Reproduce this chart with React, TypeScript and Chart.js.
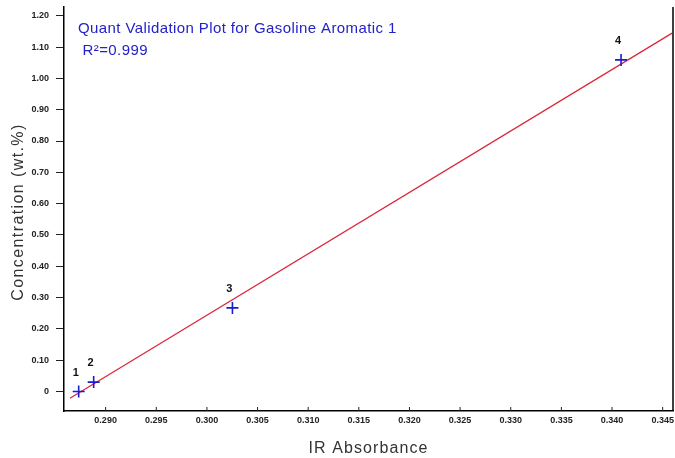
import React, { useEffect, useRef } from 'react';
import { Chart, registerables } from 'chart.js';
Chart.register(...registerables);

// ---- data ----
const sampleLabels = ['1', '2', '3', '4'];
const absorbance = [0.28734, 0.28882, 0.30252, 0.34089];
const concentration = [0.0, 0.03, 0.267, 1.059];
const fitX = [0.28648, 0.34593];
const fitY = [-0.0217, 1.1446];
const xTicks = [0.29, 0.295, 0.3, 0.305, 0.31, 0.315, 0.32, 0.325, 0.33, 0.335, 0.34, 0.345];
const yTicks = [0, 0.1, 0.2, 0.3, 0.4, 0.5, 0.6, 0.7, 0.8, 0.9, 1.0, 1.1, 1.2];
const xRange = [0.28589, 0.34602];
const yRange = [-0.0623, 1.228];
const titleLines = ['Quant Validation Plot for Gasoline Aromatic 1', ' R\u00B2=0.999'];
const xTitle = 'IR Absorbance';
const yTitle = 'Concentration (wt.%)';

const overlay = {
  id: 'overlay',
  afterDraw(chart: any) {
    const ctx = chart.ctx as CanvasRenderingContext2D;
    const area = chart.chartArea;
    const xs = chart.scales.x;
    const ys = chart.scales.y;
    ctx.save();
    // right border
    ctx.strokeStyle = '#000';
    ctx.lineWidth = 1.5;
    ctx.beginPath();
    ctx.moveTo(area.right, area.top);
    ctx.lineTo(area.right, area.bottom);
    ctx.stroke();
    // inside x tick marks
    ctx.lineWidth = 1;
    ctx.strokeStyle = '#222';
    xTicks.forEach((v) => {
      const px = xs.getPixelForValue(v);
      ctx.beginPath();
      ctx.moveTo(px, area.bottom);
      ctx.lineTo(px, area.bottom - 4);
      ctx.stroke();
    });
    // point labels
    ctx.fillStyle = '#111';
    ctx.font = 'bold 11px "Liberation Sans", Arial, sans-serif';
    ctx.textAlign = 'center';
    ctx.textBaseline = 'middle';
    sampleLabels.forEach((lab, i) => {
      const px = xs.getPixelForValue(absorbance[i]);
      const py = ys.getPixelForValue(concentration[i]);
      ctx.fillText(lab, px - 3, py - 19);
    });
    // in-plot title
    (ctx as any).letterSpacing = '0.4px';
    ctx.fillStyle = '#2222c8';
    ctx.font = '15px "Liberation Sans", Arial, sans-serif';
    ctx.textAlign = 'left';
    ctx.textBaseline = 'alphabetic';
    ctx.fillText(titleLines[0], 78, 33);
    ctx.fillText(titleLines[1], 78, 55);
    // axis titles
    (ctx as any).letterSpacing = '1.1px';
    ctx.fillStyle = '#333';
    ctx.font = '16px "Liberation Sans", Arial, sans-serif';
    ctx.textAlign = 'center';
    ctx.fillText(xTitle, (area.left + area.right) / 2, 453);
    (ctx as any).letterSpacing = '1.4px';
    ctx.translate(19, 212);
    ctx.rotate(-Math.PI / 2);
    ctx.textBaseline = 'middle';
    ctx.fillText(yTitle, 0, 0);
    ctx.restore();
  },
};

const whiteBg = {
  id: 'whiteBg',
  beforeDraw(chart: any) {
    const ctx = chart.ctx;
    ctx.save();
    ctx.fillStyle = '#fff';
    ctx.fillRect(0, 0, chart.width, chart.height);
    ctx.restore();
  },
};

export default function App() {
  const ref = useRef<HTMLCanvasElement>(null);
  useEffect(() => {
    document.body.style.margin = '0';
    const tickFont = { family: '"Liberation Sans", Arial, sans-serif', size: 9, weight: 'bold' as const };
    const chart = new Chart(ref.current!, {
      type: 'scatter',
      data: {
        datasets: [
          {
            label: 'samples',
            data: absorbance.map((x, i) => ({ x, y: concentration[i] })),
            pointStyle: 'cross',
            pointRadius: 6,
            pointBorderWidth: 1.6,
            borderColor: '#1a1ad0',
            backgroundColor: '#1a1ad0',
            order: 0,
          },
          {
            label: 'fit',
            type: 'line',
            data: fitX.map((x, i) => ({ x, y: fitY[i] })),
            borderColor: '#dc2638',
            borderWidth: 1.2,
            pointRadius: 0,
            showLine: true,
            fill: false,
            order: 1,
          } as any,
        ],
      },
      options: {
        animation: false,
        responsive: false,
        maintainAspectRatio: false,
        layout: { autoPadding: false, padding: { left: 0, top: 7, right: 2, bottom: 0 } },
        plugins: { legend: { display: false }, tooltip: { enabled: false } },
        scales: {
          x: {
            type: 'linear',
            min: xRange[0],
            max: xRange[1],
            afterBuildTicks: (s: any) => {
              s.ticks = xTicks.map((v) => ({ value: v }));
            },
            afterFit: (s: any) => {
              s.height = 47;
              s.paddingLeft = 0;
              s.paddingRight = 0;
            },
            grid: { display: true, drawOnChartArea: false, drawTicks: false, color: '#222' },
            border: { display: true, color: '#000', width: 1.5 },
            ticks: {
              color: '#222',
              font: tickFont,
              padding: 4,
              maxRotation: 0,
              autoSkip: false,
              callback: (v: any) => Number(v).toFixed(3),
            },
            title: { display: false },
          },
          y: {
            type: 'linear',
            min: yRange[0],
            max: yRange[1],
            afterBuildTicks: (s: any) => {
              s.ticks = yTicks.map((v) => ({ value: v }));
            },
            afterFit: (s: any) => {
              s.width = 64;
              s.paddingTop = 0;
              s.paddingBottom = 0;
            },
            grid: { display: true, drawOnChartArea: false, drawTicks: true, tickLength: 8, color: '#222' },
            border: { display: true, color: '#000', width: 1.5 },
            ticks: {
              color: '#222',
              font: tickFont,
              padding: 7,
              autoSkip: false,
              callback: (v: any) => (Number(v) === 0 ? '0' : Number(v).toFixed(2)),
            },
            title: { display: false },
          },
        },
      },
      plugins: [whiteBg, overlay],
    });
    return () => chart.destroy();
  }, []);
  return (
    <div style={{ position: 'absolute', left: 0, top: 0, width: 675, height: 458 }}>
      <canvas ref={ref} width={675} height={458} style={{ width: 675, height: 458 }} />
    </div>
  );
}
